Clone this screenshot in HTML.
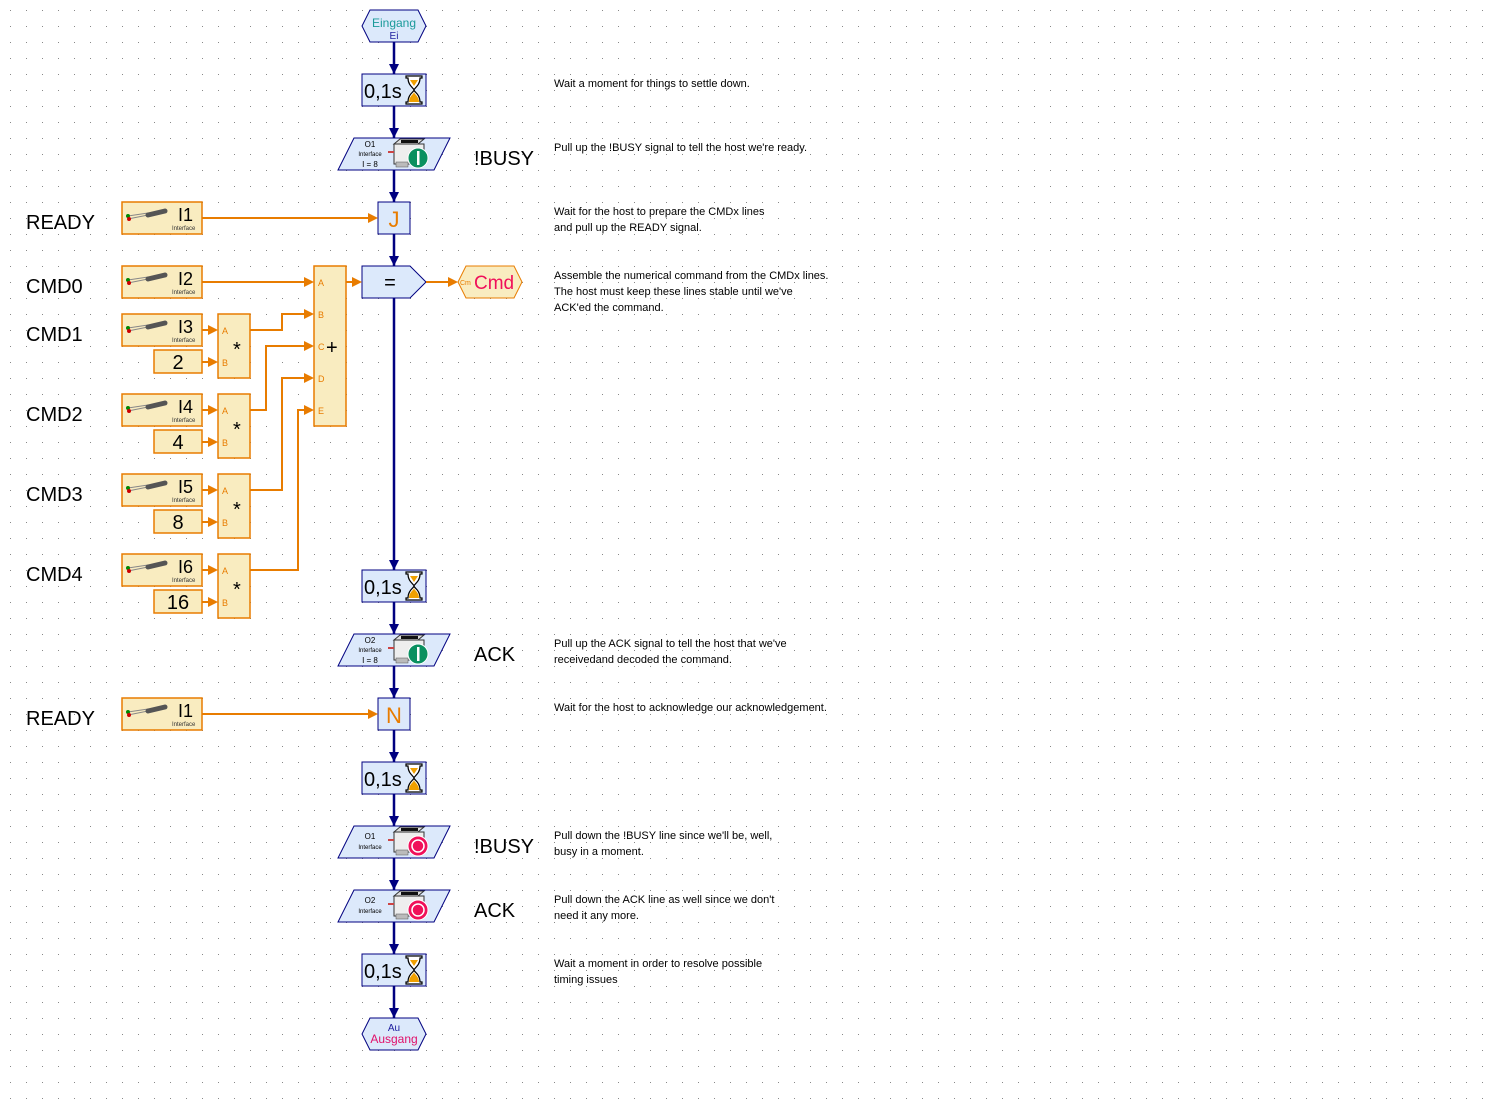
<!DOCTYPE html>
<html><head><meta charset="utf-8"><style>
html,body{margin:0;padding:0;background:#fff}
svg{display:block}
text{font-family:"Liberation Sans",Arial,sans-serif}
.c{font-size:11px;fill:#000}
.lbl{font-size:20px;fill:#000}
</style></head><body>
<svg width="1495" height="1109" viewBox="0 0 1495 1109" xmlns="http://www.w3.org/2000/svg">
<defs>
<pattern id="g" x="10" y="10" width="16" height="16" patternUnits="userSpaceOnUse"><rect x="0" y="0" width="1" height="1" fill="#888"/></pattern>
<g id="hg"><path d="M0 0h16v2h-2c0 8-6 10-6 12s6 4 6 12h2v2h-16v-2h2c0-8 6-10 6-12s-6-4-6-12h-2z" fill="#fff" stroke="#000" stroke-width="1.2"/><path d="M3 26c0-6 5-8 5-10 0 2 5 4 5 10z" fill="#f0a000"/><path d="M4 4h8l-4 6z" fill="#f0a000"/></g>
<g id="inp"><rect x="0" y="0" width="80" height="32" fill="#f9ecc0" stroke="#e87c00" stroke-width="1.5"/><line x1="6" y1="14" x2="26" y2="11" stroke="#888" stroke-width="1"/><line x1="6" y1="17" x2="26" y2="13" stroke="#888" stroke-width="1"/><line x1="26" y1="13" x2="43" y2="9" stroke="#555" stroke-width="5" stroke-linecap="round"/><circle cx="6" cy="14" r="2" fill="#080"/><circle cx="7" cy="17" r="2" fill="#c00"/><text x="50" y="52" font-size="6" fill="#333" transform="translate(0,-24)">Interface</text></g>
<g id="prn"><rect x="0" y="6" width="30" height="20" fill="#eee" stroke="#333"/><path d="M0 6l6-5h24l-6 5z" fill="#ddd" stroke="#333"/><rect x="7" y="2" width="17" height="3" fill="#111"/><rect x="-6" y="13" width="6" height="2" fill="#c44"/><rect x="2" y="24" width="12" height="5" fill="#bbb" stroke="#555" stroke-width=".5"/></g>
</defs>
<rect width="1495" height="1109" fill="url(#g)"/>

<line x1="394" y1="42" x2="394" y2="1018" stroke="#000080" stroke-width="2.5"/>
<g fill="#000080">
<path d="M389 64h10l-5 10z"/><path d="M389 128h10l-5 10z"/><path d="M389 192h10l-5 10z"/><path d="M389 256h10l-5 10z"/><path d="M389 560h10l-5 10z"/><path d="M389 624h10l-5 10z"/><path d="M389 688h10l-5 10z"/><path d="M389 752h10l-5 10z"/><path d="M389 816h10l-5 10z"/><path d="M389 880h10l-5 10z"/><path d="M389 944h10l-5 10z"/><path d="M389 1008h10l-5 10z"/>
</g>

<path d="M370 10h48l8 16-8 16h-48l-8-16z" fill="#dce9fb" stroke="#000080"/>
<text x="394" y="27" text-anchor="middle" font-size="12" fill="#1a9a9a">Eingang</text>
<text x="394" y="39" text-anchor="middle" font-size="10" fill="#2020a0">Ei</text>
<path d="M370 1018h48l8 16-8 16h-48l-8-16z" fill="#dce9fb" stroke="#000080"/>
<text x="394" y="1031" text-anchor="middle" font-size="10" fill="#2020a0">Au</text>
<text x="394" y="1043" text-anchor="middle" font-size="12" fill="#e0106a">Ausgang</text>

<g>
<rect x="362" y="74" width="64" height="32" fill="#dce9fb" stroke="#000080"/><text x="364" y="98" font-size="20">0,1s</text><use href="#hg" x="406" y="76"/>
<rect x="362" y="570" width="64" height="32" fill="#dce9fb" stroke="#000080"/><text x="364" y="594" font-size="20">0,1s</text><use href="#hg" x="406" y="572"/>
<rect x="362" y="762" width="64" height="32" fill="#dce9fb" stroke="#000080"/><text x="364" y="786" font-size="20">0,1s</text><use href="#hg" x="406" y="764"/>
<rect x="362" y="954" width="64" height="32" fill="#dce9fb" stroke="#000080"/><text x="364" y="978" font-size="20">0,1s</text><use href="#hg" x="406" y="956"/>
</g>

<g>
<path d="M354 138h96l-16 32h-96z" fill="#dce9fb" stroke="#000080"/><text x="370" y="147" font-size="8" text-anchor="middle">O1</text><text x="370" y="156" font-size="6" text-anchor="middle">Interface</text><text x="370" y="167" font-size="8" text-anchor="middle">I = 8</text><use href="#prn" x="394" y="138"/><circle cx="418" cy="158" r="10" fill="#0a9060" stroke="#fff"/><rect x="417" y="151" width="2.5" height="14" fill="#fff"/>
<path d="M354 634h96l-16 32h-96z" fill="#dce9fb" stroke="#000080"/><text x="370" y="643" font-size="8" text-anchor="middle">O2</text><text x="370" y="652" font-size="6" text-anchor="middle">Interface</text><text x="370" y="663" font-size="8" text-anchor="middle">I = 8</text><use href="#prn" x="394" y="634"/><circle cx="418" cy="654" r="10" fill="#0a9060" stroke="#fff"/><rect x="417" y="647" width="2.5" height="14" fill="#fff"/>
<path d="M354 826h96l-16 32h-96z" fill="#dce9fb" stroke="#000080"/><text x="370" y="839" font-size="8" text-anchor="middle">O1</text><text x="370" y="849" font-size="6" text-anchor="middle">Interface</text><use href="#prn" x="394" y="826"/><circle cx="418" cy="846" r="10" fill="#f0105a" stroke="#fff"/><circle cx="418" cy="846" r="6" fill="none" stroke="#fff" stroke-width="1.5"/>
<path d="M354 890h96l-16 32h-96z" fill="#dce9fb" stroke="#000080"/><text x="370" y="903" font-size="8" text-anchor="middle">O2</text><text x="370" y="913" font-size="6" text-anchor="middle">Interface</text><use href="#prn" x="394" y="890"/><circle cx="418" cy="910" r="10" fill="#f0105a" stroke="#fff"/><circle cx="418" cy="910" r="6" fill="none" stroke="#fff" stroke-width="1.5"/>
</g>
<text x="474" y="165" class="lbl">!BUSY</text>
<text x="474" y="661" class="lbl">ACK</text>
<text x="474" y="853" class="lbl">!BUSY</text>
<text x="474" y="917" class="lbl">ACK</text>

<rect x="378" y="202" width="32" height="32" fill="#dce9fb" stroke="#000080"/><text x="394" y="227" text-anchor="middle" font-size="22" fill="#e87c00">J</text>
<rect x="378" y="698" width="32" height="32" fill="#dce9fb" stroke="#000080"/><text x="394" y="723" text-anchor="middle" font-size="22" fill="#e87c00">N</text>

<path d="M362 266h48l16 16-16 16h-48z" fill="#dce9fb" stroke="#000080"/><text x="390" y="289" text-anchor="middle" font-size="20">=</text>
<path d="M466 266h48l8 16-8 16h-48l-8-16z" fill="#f9ecc0" stroke="#e87c00"/><text x="460" y="285" font-size="7" fill="#e87c00">Cm</text><text x="474" y="289" font-size="19" fill="#f0105a">Cmd</text>

<g stroke="#e87c00" stroke-width="2" fill="none">
<path d="M202 218H370"/><path d="M202 714H370"/>
<path d="M202 282H306"/><path d="M346 282H354"/><path d="M426 282H450"/>
<path d="M202 330H210"/><path d="M202 362H210"/><path d="M202 410H210"/><path d="M202 442H210"/><path d="M202 490H210"/><path d="M202 522H210"/><path d="M202 570H210"/><path d="M202 602H210"/>
<path d="M250 330H282V314H306"/><path d="M250 410H266V346H306"/><path d="M250 490H282V378H306"/><path d="M250 570H298V410H306"/>
</g>
<g fill="#e87c00">
<path d="M368 213v10l10-5z"/><path d="M368 709v10l10-5z"/>
<path d="M304 277v10l10-5z"/><path d="M304 309v10l10-5z"/><path d="M304 341v10l10-5z"/><path d="M304 373v10l10-5z"/><path d="M304 405v10l10-5z"/>
<path d="M352 277v10l10-5z"/><path d="M448 277v10l10-5z"/>
<path d="M208 325v10l10-5z"/><path d="M208 357v10l10-5z"/><path d="M208 405v10l10-5z"/><path d="M208 437v10l10-5z"/><path d="M208 485v10l10-5z"/><path d="M208 517v10l10-5z"/><path d="M208 565v10l10-5z"/><path d="M208 597v10l10-5z"/>
</g>

<g font-size="18">
<use href="#inp" x="122" y="202"/><text x="178" y="221">I1</text>
<use href="#inp" x="122" y="266"/><text x="178" y="285">I2</text>
<use href="#inp" x="122" y="314"/><text x="178" y="333">I3</text>
<use href="#inp" x="122" y="394"/><text x="178" y="413">I4</text>
<use href="#inp" x="122" y="474"/><text x="178" y="493">I5</text>
<use href="#inp" x="122" y="554"/><text x="178" y="573">I6</text>
<use href="#inp" x="122" y="698"/><text x="178" y="717">I1</text>
</g>
<g fill="#f9ecc0" stroke="#e87c00" stroke-width="1.5">
<rect x="154" y="350" width="48" height="23"/><rect x="154" y="430" width="48" height="23"/><rect x="154" y="510" width="48" height="23"/><rect x="154" y="590" width="48" height="23"/>
</g>
<g font-size="20" text-anchor="middle">
<text x="178" y="369">2</text><text x="178" y="449">4</text><text x="178" y="529">8</text><text x="178" y="609">16</text>
</g>
<g fill="#f9ecc0" stroke="#e87c00" stroke-width="1.5">
<rect x="218" y="314" width="32" height="64"/><rect x="218" y="394" width="32" height="64"/><rect x="218" y="474" width="32" height="64"/><rect x="218" y="554" width="32" height="64"/>
<rect x="314" y="266" width="32" height="160"/>
</g>
<g font-size="9" fill="#e87c00">
<text x="222" y="334">A</text><text x="222" y="366">B</text><text x="222" y="414">A</text><text x="222" y="446">B</text><text x="222" y="494">A</text><text x="222" y="526">B</text><text x="222" y="574">A</text><text x="222" y="606">B</text>
<text x="318" y="286">A</text><text x="318" y="318">B</text><text x="318" y="350">C</text><text x="318" y="382">D</text><text x="318" y="414">E</text>
</g>
<g font-size="20">
<text x="233" y="356">*</text><text x="233" y="436">*</text><text x="233" y="516">*</text><text x="233" y="596">*</text>
<text x="326" y="354">+</text>
</g>

<g class="lbl">
<text x="26" y="229" class="lbl">READY</text>
<text x="26" y="293" class="lbl">CMD0</text>
<text x="26" y="341" class="lbl">CMD1</text>
<text x="26" y="421" class="lbl">CMD2</text>
<text x="26" y="501" class="lbl">CMD3</text>
<text x="26" y="581" class="lbl">CMD4</text>
<text x="26" y="725" class="lbl">READY</text>
</g>

<text x="554" y="87" class="c">Wait a moment for things to settle down.</text>
<text x="554" y="151" class="c">Pull up the !BUSY signal to tell the host we're ready.</text>
<text x="554" y="215" class="c">Wait for the host to prepare the CMDx lines</text>
<text x="554" y="231" class="c">and pull up the READY signal.</text>
<text x="554" y="279" class="c">Assemble the numerical command from the CMDx lines.</text>
<text x="554" y="295" class="c">The host must keep these lines stable until we've</text>
<text x="554" y="311" class="c">ACK'ed the command.</text>
<text x="554" y="647" class="c">Pull up the ACK signal to tell the host that we've</text>
<text x="554" y="663" class="c">receivedand decoded the command.</text>
<text x="554" y="711" class="c">Wait for the host to acknowledge our acknowledgement.</text>
<text x="554" y="839" class="c">Pull down the !BUSY line since we'll be, well,</text>
<text x="554" y="855" class="c">busy in a moment.</text>
<text x="554" y="903" class="c">Pull down the ACK line as well since we don't</text>
<text x="554" y="919" class="c">need it any more.</text>
<text x="554" y="967" class="c">Wait a moment in order to resolve possible</text>
<text x="554" y="983" class="c">timing issues</text>
</svg>
</body></html>
